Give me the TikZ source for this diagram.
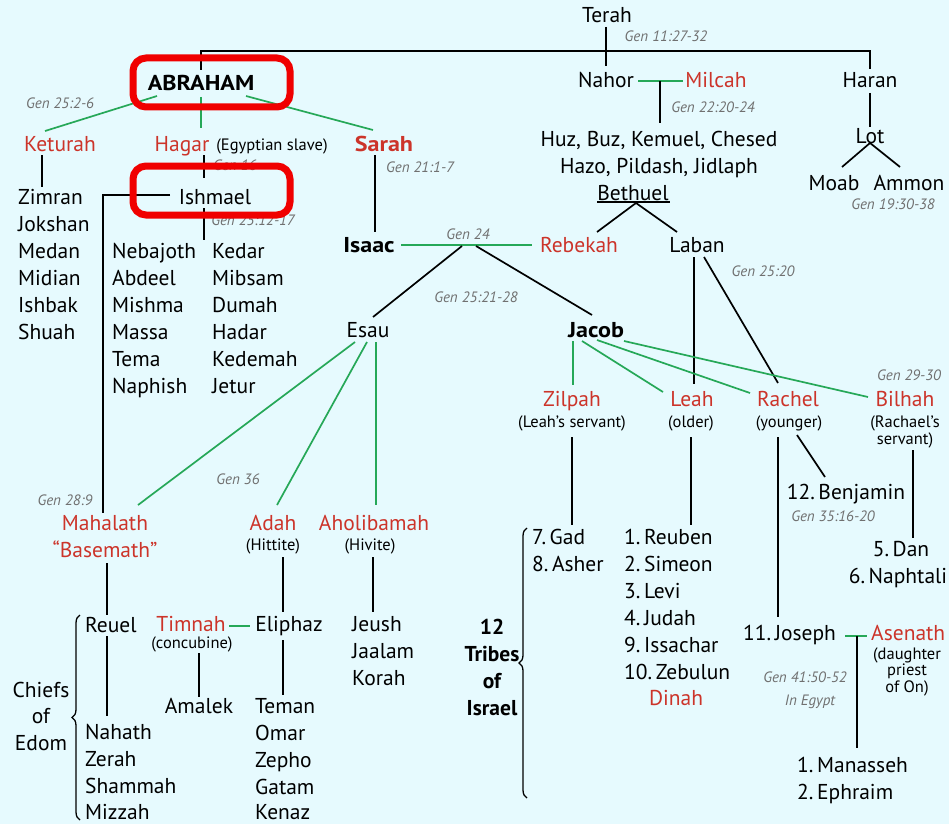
\documentclass[tikz,border=0pt]{standalone}
\usepackage{fontspec}
\setmainfont{PT Sans}
\newfontfamily\widebold{PT Sans}[FakeStretch=1.12]
\usetikzlibrary{decorations.pathreplacing}
\definecolor{bg}{RGB}{230,250,254}
\definecolor{rd}{RGB}{204,52,42}
\definecolor{gn}{RGB}{38,168,88}
\definecolor{gy}{RGB}{112,112,112}
\definecolor{hl}{RGB}{240,0,0}
\tikzset{
  nm/.style={font=\fontsize{21.5}{24}\selectfont, inner sep=0pt, anchor=base},
  nl/.style={nm, anchor=base west},
  rn/.style={nm, text=rd},
  bn/.style={nm, font=\fontsize{21.5}{24}\selectfont\widebold\bfseries},
  sm/.style={font=\fontsize{16.5}{17}\selectfont, inner sep=0pt, anchor=base, align=center},
  gv/.style={font=\fontsize{15}{16}\selectfont\itshape, text=gy, inner sep=0pt, anchor=base},
  kl/.style={line width=1.7pt, draw=black},
  gl/.style={line width=1.7pt, draw=gn},
  hbox/.style={line width=7pt, draw=hl, rounded corners=13pt},
  brc/.style={line width=1.3pt, decorate, decoration={brace, amplitude=8pt}},
}
\begin{document}
\begin{tikzpicture}[x=1pt,y=-1pt]
\fill[bg] (0,0) rectangle (949,824);
\useasboundingbox (0,0) rectangle (949,824);

% ---------- nodes ----------
\node[nm] (terah) at (607,23) {Terah};
\node[gv] (g1) at (666,42) {Gen 11:27-32};
\node[nm] (nahor) at (606,88) {Nahor};
\node[rn] (milcah) at (716,88) {Milcah};
\node[gv] (g2) at (713,113) {Gen 22:20-24};
\node[nm] (huz) at (659,146) {Huz, Buz, Kemuel, Chesed};
\node[nm] (hazo) at (659,173) {Hazo, Pildash, Jidlaph};
\node[nm] (bethuel) at (633,200) {Bethuel};
\node[nm] (haran) at (870,88) {Haran};
\node[nm] (lot) at (870,143) {Lot};
\node[nm] (moab) at (834,190) {Moab};
\node[nm] (ammon) at (909,190) {Ammon};
\node[gv] (g3) at (893,209) {Gen 19:30-38};

\node[bn] (abraham) at (201,91) {ABRAHAM};
\node[gv] (g4) at (60,108) {Gen 25:2-6};
\node[rn] (keturah) at (60,151) {Keturah};
\node[rn] (hagar) at (182,151) {Hagar};
\node[sm] (hagarn) at (272,150) {(Egyptian slave)};
\node[bn, text=rd] (sarah) at (384,151) {Sarah};
\node[gv] (g5) at (235,170) {Gen 16};
\node[nm] (ishmael) at (215,204) {Ishmael};
\node[gv] (g6) at (253,225) {Gen 25:12-17};
\node[gv] (g7) at (420,172) {Gen 21:1-7};

\node[nl] (zimran) at (18,204) {Zimran};
\node[nl] (jokshan) at (18,231) {Jokshan};
\node[nl] (medan) at (18,258) {Medan};
\node[nl] (midian) at (18,285) {Midian};
\node[nl] (ishbak) at (18,312) {Ishbak};
\node[nl] (shuah) at (18,339) {Shuah};

\node[nl] (nebajoth) at (112,258) {Nebajoth};
\node[nl] (abdeel) at (112,285) {Abdeel};
\node[nl] (mishma) at (112,312) {Mishma};
\node[nl] (massa) at (112,339) {Massa};
\node[nl] (tema) at (112,366) {Tema};
\node[nl] (naphish) at (112,393) {Naphish};
\node[nl] (kedar) at (212,258) {Kedar};
\node[nl] (mibsam) at (212,285) {Mibsam};
\node[nl] (dumah) at (212,312) {Dumah};
\node[nl] (hadar) at (212,339) {Hadar};
\node[nl] (kedemah) at (212,366) {Kedemah};
\node[nl] (jetur) at (212,393) {Jetur};

\node[bn] (isaac) at (369,252) {Isaac};
\node[rn] (rebekah) at (579,252) {Rebekah};
\node[nm] (laban) at (697,252) {Laban};
\node[gv] (g8) at (468,239) {Gen 24};
\node[gv] (g9) at (476,302) {Gen 25:21-28};
\node[gv] (g10) at (763,276) {Gen 25:20};
\node[nm] (esau) at (368,337) {Esau};
\node[bn] (jacob) at (596,337) {Jacob};

\node[rn] (zilpah) at (572,406) {Zilpah};
\node[sm] (zilpahn) at (572,427) {(Leah’s servant)};
\node[rn] (leah) at (692,406) {Leah};
\node[sm] (leahn) at (691,427) {(older)};
\node[rn] (rachel) at (788,406) {Rachel};
\node[sm] (racheln) at (789,427) {(younger)};
\node[rn] (bilhah) at (905,406) {Bilhah};
\node[sm] (bilhahn) at (905,444) {(Rachael’s\\[0pt]servant)};
\node[gv] (g11) at (909,380) {Gen 29-30};
\node[nm] (benjamin) at (846,499) {12.\,Benjamin};
\node[gv] (g12) at (833,521) {Gen 35:16-20};

\node[gv] (g13) at (238,484) {Gen 36};
\node[gv] (g14) at (65,505) {Gen 28:9};
\node[rn] (mahalath) at (105,530) {Mahalath};
\node[rn] (basemath) at (105,557) {“Basemath”};
\node[rn] (adah) at (273,530) {Adah};
\node[sm] (adahn) at (273,550) {(Hittite)};
\node[rn] (aholibamah) at (374,530) {Aholibamah};
\node[sm] (aholin) at (370,550) {(Hivite)};

\node[nl] (reuel) at (85,632) {Reuel};
\node[rn] (timnah) at (191,631) {Timnah};
\node[sm] (timnahn) at (192,648) {(concubine)};
\node[nm] (eliphaz) at (289,631) {Eliphaz};
\node[nm] (amalek) at (199,713) {Amalek};
\node[nl] (teman) at (255,713) {Teman};
\node[nl] (omar) at (255,740) {Omar};
\node[nl] (zepho) at (255,767) {Zepho};
\node[nl] (gatam) at (255,794) {Gatam};
\node[nl] (kenaz) at (255,819) {Kenaz};
\node[nl] (nahath) at (85,739) {Nahath};
\node[nl] (zerah) at (85,766) {Zerah};
\node[nl] (shammah) at (85,793) {Shammah};
\node[nl] (mizzah) at (85,819) {Mizzah};
\node[nm, align=center, anchor=center] (chiefs) at (41,716) {Chiefs\\[2.5pt]of\\[2.5pt]Edom};
\node[nl] (jeush) at (352,631) {Jeush};
\node[nl] (jaalam) at (352,658) {Jaalam};
\node[nl] (korah) at (352,685) {Korah};

\node[nm, align=center, anchor=center, font=\fontsize{21.5}{24}\selectfont\bfseries] (tribes) at (492,667) {12\\[3pt]Tribes\\[3pt]of\\[3pt]Israel};
\node[nl] (gad) at (532,544) {7.\,Gad};
\node[nl] (asher) at (532,571) {8.\,Asher};
\node[nl] (reuben) at (624,544) {1.\,Reuben};
\node[nl] (simeon) at (624,571) {2.\,Simeon};
\node[nl] (levi) at (624,598) {3.\,Levi};
\node[nl] (judah) at (624,625) {4.\,Judah};
\node[nl] (issachar) at (624,652) {9.\,Issachar};
\node[nl] (zebulun) at (624,679) {10.\,Zebulun};
\node[rn] (dinah) at (676,705) {Dinah};
\node[nm] (dan) at (901,556) {5.\,Dan};
\node[nm] (naphtali) at (898,583) {6.\,Naphtali};
\node[nl] (joseph) at (743,640) {11.\,Joseph};
\node[nl, text=rd] (asenath) at (871,640) {Asenath};
\node[sm] (asenathn) at (907,692) {(daughter\\[-0.5pt]priest\\[-0.5pt]of On)};
\node[gv] (g15) at (805,682) {Gen 41:50-52};
\node[gv] (g16) at (810,705) {In Egypt};
\node[nl] (manasseh) at (797,772) {1.\,Manasseh};
\node[nl] (ephraim) at (797,799) {2.\,Ephraim};

% ---------- junction coordinates ----------
\coordinate (tA) at (606,27);  \coordinate (tB) at (606,66);
\coordinate (hA) at (201,70);  \coordinate (hB) at (201,51);
\coordinate (hC) at (870,51);  \coordinate (hD) at (870,69);
\coordinate (nmA) at (638,81); \coordinate (nmB) at (683,81);
\coordinate (nmJ) at (660,81); \coordinate (nmC) at (660,123);
\coordinate (buA) at (597,202); \coordinate (buB) at (670,202);
\coordinate (beJ) at (636,203); \coordinate (rebT) at (597,232); \coordinate (labT) at (677,232);
\coordinate (haA) at (870,93); \coordinate (haB) at (870,127);
\coordinate (loJ) at (870,143); \coordinate (moT) at (842,167); \coordinate (amT) at (900,167);

\coordinate (abL) at (157,96); \coordinate (ketT) at (45,131);
\coordinate (abR) at (246,96); \coordinate (saT) at (373,130);
\coordinate (abB) at (201,97); \coordinate (hgT) at (201,128);
\coordinate (ketB) at (42,155); \coordinate (zimT) at (42,187);
\coordinate (hgB) at (204,155); \coordinate (isT) at (204,178);
\coordinate (isB) at (204,208); \coordinate (isC) at (204,240);
\coordinate (isL) at (170,195); \coordinate (isK) at (103,195); \coordinate (isD) at (103,513);
\coordinate (saB) at (375,155); \coordinate (iaT) at (375,232);
\coordinate (iaR) at (401,245); \coordinate (rbL) at (532,245);
\coordinate (mA) at (462,246); \coordinate (mB) at (476,246);
\coordinate (esT) at (373,317); \coordinate (jaT) at (592,315);
\coordinate (lbA) at (694,257); \coordinate (leT) at (694,384);
\coordinate (lbB) at (704,257); \coordinate (raT) at (778,383);

\coordinate (es1) at (355,342); \coordinate (maT) at (138,505);
\coordinate (es2) at (367,342); \coordinate (adT) at (277,505);
\coordinate (es3) at (376,342); \coordinate (ahT) at (376,505);
\coordinate (maB) at (107,563); \coordinate (reT) at (107,615);
\coordinate (reB) at (107,636); \coordinate (naT) at (107,716);
\coordinate (adB) at (283,557); \coordinate (elT) at (283,612);
\coordinate (elB) at (283,640); \coordinate (teT) at (283,695);
\coordinate (tmB) at (199,653); \coordinate (amkT) at (199,697);
\coordinate (tmR) at (229,626); \coordinate (elL) at (250,626);
\coordinate (ahB) at (373,557); \coordinate (jeT) at (373,612);
\coordinate (brA) at (80,820); \coordinate (brB) at (80,615);

\coordinate (ja1) at (573,341); \coordinate (ziT) at (573,385);
\coordinate (ja2) at (582,341); \coordinate (lhT) at (663,392);
\coordinate (ja3) at (597,340); \coordinate (rcT) at (750,393);
\coordinate (ja4) at (624,341); \coordinate (biT) at (868,397);
\coordinate (ziB) at (572,437); \coordinate (gaT) at (572,525);
\coordinate (lhB) at (691,437); \coordinate (ruT) at (691,525);
\coordinate (rcB) at (778,437); \coordinate (joT) at (778,617);
\coordinate (rcD) at (797,435); \coordinate (bjT) at (825,477);
\coordinate (biB) at (913,450); \coordinate (daT) at (913,538);
\coordinate (joR) at (845,636); \coordinate (asL) at (867,636);
\coordinate (joJ) at (857,636); \coordinate (mnT) at (857,748);
\coordinate (trA) at (527,798); \coordinate (trB) at (527,528);

% ---------- connectors ----------
\draw[kl] (tA) -- (tB);
\draw[kl] (hA) -- (hB) -- (hC) -- (hD);
\draw[gl] (nmA) -- (nmB);
\draw[kl] (nmJ) -- (nmC);
\draw[kl] (buA) -- (buB);
\draw[kl] (rebT) -- (beJ) -- (labT);
\draw[kl] (haA) -- (haB);
\draw[kl] (moT) -- (loJ) -- (amT);

\draw[gl] (abL) -- (ketT);
\draw[gl] (abR) -- (saT);
\draw[gl] (abB) -- (hgT);
\draw[kl] (ketB) -- (zimT);
\draw[kl] (hgB) -- (isT);
\draw[kl] (isB) -- (isC);
\draw[kl] (isL) -- (isK) -- (isD);
\draw[kl] (saB) -- (iaT);
\draw[gl] (iaR) -- (rbL);
\draw[kl] (mA) -- (esT);
\draw[kl] (mB) -- (jaT);
\draw[kl] (lbA) -- (leT);
\draw[kl] (lbB) -- (raT);

\draw[gl] (es1) -- (maT);
\draw[gl] (es2) -- (adT);
\draw[gl] (es3) -- (ahT);
\draw[kl] (maB) -- (reT);
\draw[kl] (reB) -- (naT);
\draw[kl] (adB) -- (elT);
\draw[kl] (elB) -- (teT);
\draw[kl] (tmB) -- (amkT);
\draw[gl] (tmR) -- (elL);
\draw[kl] (ahB) -- (jeT);
\draw[brc] (brA) -- (brB);

\draw[gl] (ja1) -- (ziT);
\draw[gl] (ja2) -- (lhT);
\draw[gl] (ja3) -- (rcT);
\draw[gl] (ja4) -- (biT);
\draw[kl] (ziB) -- (gaT);
\draw[kl] (lhB) -- (ruT);
\draw[kl] (rcB) -- (joT);
\draw[kl] (rcD) -- (bjT);
\draw[kl] (biB) -- (daT);
\draw[gl] (joR) -- (asL);
\draw[kl] (joJ) -- (mnT);
\draw[brc] (trA) -- (trB);

% ---------- highlight boxes ----------
\draw[hbox] (133,58) rectangle (290,107);
\draw[hbox] (133,166) rectangle (290,215);
\end{tikzpicture}
\end{document}
